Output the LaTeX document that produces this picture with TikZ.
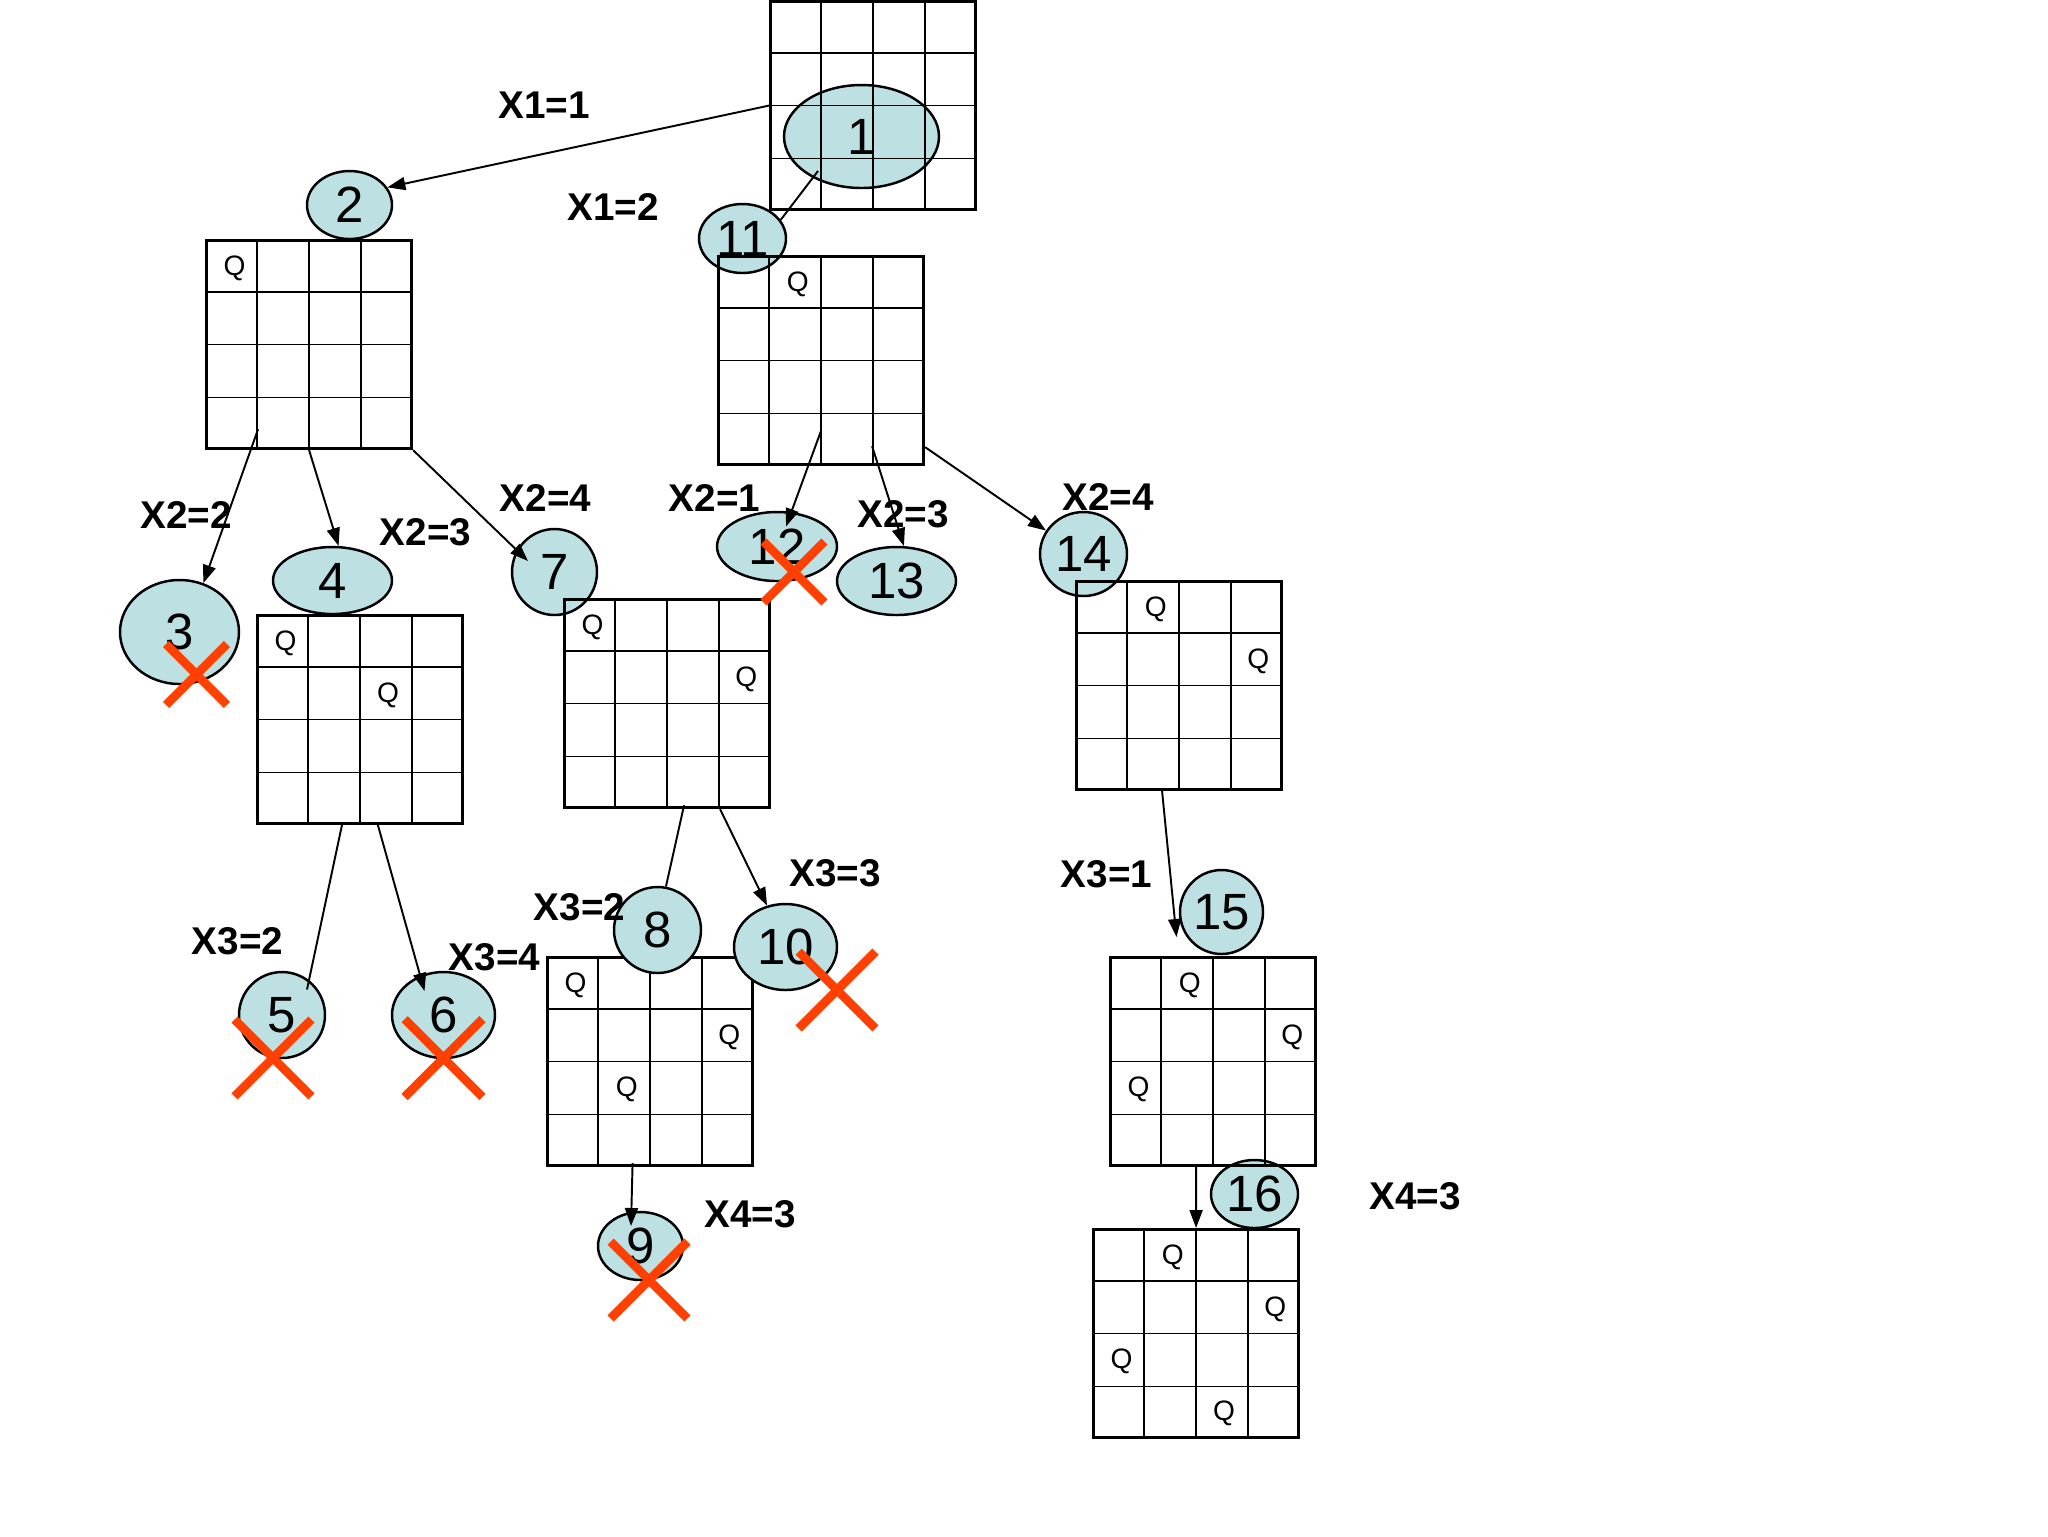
\documentclass[tikz,border=0pt]{standalone}
\usepackage{fontspec}
\setmainfont{Liberation Sans}
\usetikzlibrary{arrows.meta,calc,shapes.geometric,shapes.misc}

\definecolor{nodefill}{RGB}{189,224,227}
\definecolor{xred}{RGB}{255,64,0}

% 4x4 board: name, top-left corner
\newcommand{\board}[3]{%
  \node[board, anchor=north west] (#1) at (#2,#3) {};
  \foreach \k in {1,2,3} {
    \draw[gridline] ($(#1.north west)!\k/4!(#1.north east)$) -- ($(#1.south west)!\k/4!(#1.south east)$);
    \draw[gridline] ($(#1.north west)!\k/4!(#1.south west)$) -- ($(#1.north east)!\k/4!(#1.south east)$);
  }
}
% queen: board, column, row
\newcommand{\queen}[3]{%
  \node[queen] (#1q#2#3) at ($(#1.north west)+({(#2+0.5)*51.25+4},{(#3+0.5)*52+3})$) {Q};
}

\begin{document}
\begin{tikzpicture}[
    x=0.1mm, y=-0.1mm,
    state/.style={ellipse, draw, line width=0.7pt, fill=nodefill, inner sep=0pt, font=\fontsize{14.5}{17}\selectfont},
    board/.style={rectangle, draw, line width=0.9pt, minimum width=20.5mm, minimum height=20.8mm, inner sep=0pt},
    gridline/.style={line width=0.45pt},
    queen/.style={inner sep=0pt, font=\fontsize{8}{9}\selectfont},
    lbl/.style={inner sep=0pt, font=\fontsize{11}{13}\selectfont\bfseries},
    arrow/.style={-{Triangle[length=1.8mm, width=1.3mm]}, line width=0.55pt},
    link/.style={line width=0.55pt},
    dead/.style={cross out, draw=xred, line width=2.5pt, inner sep=0pt}
]
\useasboundingbox (0,0) rectangle (2048,1536);

% States
\node[state, minimum width=15.5mm, minimum height=10.3mm] (e1) at (861.5,136.5) {1};
\node[state, minimum width=8.5mm, minimum height=6.8mm] (e2) at (349.5,205) {2};
\node[state, minimum width=8.7mm, minimum height=6.9mm] (e11) at (742.5,238.5) {11};
\node[state, minimum width=11.9mm, minimum height=10.4mm] (e3) at (179.5,632) {3};
\node[state, minimum width=11.9mm, minimum height=6.7mm] (e4) at (332.5,580.5) {4};
\node[state, minimum width=8.5mm, minimum height=8.6mm] (e7) at (554.5,572) {7};
\node[state, minimum width=12mm, minimum height=6.9mm] (e12) at (777,546.5) {12};
\node[state, minimum width=11.9mm, minimum height=6.8mm] (e13) at (896.5,581) {13};
\node[state, minimum width=8.7mm, minimum height=8.4mm] (e14) at (1083.5,554) {14};
\node[state, minimum width=8.6mm, minimum height=8.6mm] (e5) at (282,1015) {5};
\node[state, minimum width=10.3mm, minimum height=8.6mm] (e6) at (443.5,1015) {6};
\node[state, minimum width=8.5mm, minimum height=6.8mm] (e9) at (640.5,1246) {9};
\node[state, minimum width=8.3mm, minimum height=8.4mm] (e15) at (1221.5,912) {15};
\node[state, minimum width=8.7mm, minimum height=6.8mm] (e16) at (1254.5,1194) {16};

% Boards
\board{b1}{769}{0}
\board{b2}{205}{239}
\queen{b2}{0}{0}
\board{b11}{717}{255}
\queen{b11}{1}{0}
\board{b4}{256}{614}
\queen{b4}{0}{0}
\queen{b4}{2}{1}
\board{b7}{563}{598}
\queen{b7}{0}{0}
\queen{b7}{3}{1}
\board{b14}{1075}{580}
\queen{b14}{1}{0}
\queen{b14}{3}{1}
\board{b8}{546}{956}
\queen{b8}{0}{0}
\queen{b8}{3}{1}
\queen{b8}{1}{2}
\board{b15}{1109}{956}
\queen{b15}{1}{0}
\queen{b15}{3}{1}
\queen{b15}{0}{2}
\board{b16}{1092}{1228}
\queen{b16}{1}{0}
\queen{b16}{3}{1}
\queen{b16}{0}{2}
\queen{b16}{2}{3}

\node[state, minimum width=8.7mm, minimum height=8.6mm] (e8) at (657.5,930) {8};
\node[state, minimum width=10.3mm, minimum height=8.6mm] (e10) at (785.5,947) {10};

% Labels
\node[lbl] (l1a) at (544,105) {X1=1};
\node[lbl] (l1b) at (613,207) {X1=2};
\node[lbl] (l2a) at (186,514.5) {X2=2};
\node[lbl] (l2b) at (425.5,532) {X2=3};
\node[lbl] (l2c) at (545.5,497.5) {X2=4};
\node[lbl] (l2d) at (714.5,497.5) {X2=1};
\node[lbl] (l2e) at (903,514.5) {X2=3};
\node[lbl] (l2f) at (1108,496.5) {X2=4};
\node[lbl] (l3a) at (237.5,941.5) {X3=2};
\node[lbl] (l3b) at (494.5,957.5) {X3=4};
\node[lbl] (l3c) at (579.5,907) {X3=2};
\node[lbl] (l3d) at (835,873) {X3=3};
\node[lbl] (l3e) at (1106.5,874) {X3=1};
\node[lbl] (l4a) at (750,1214) {X4=3};
\node[lbl] (l4b) at (1415,1196) {X4=3};

% Connectors
\draw[arrow] (b1.west) -- (e2.25);
\draw[link] ([xshift=-4.35mm,yshift=-3.45mm]e1.center) -- (e11.26);
\draw[arrow] ([xshift=-5.1mm,yshift=2.1mm]b2.south) -- (e3.64);
\draw[arrow] (b2.south) -- (e4.80);
\draw[arrow] (b2.south east) -- ([xshift=-2.65mm,yshift=1.1mm]e7.center);
\draw[arrow] ([yshift=3.55mm]b11.south) -- ([xshift=0.9mm,yshift=2mm]e12.center);
\draw[arrow] ([xshift=5.1mm,yshift=2mm]b11.south) -- (e13.78);
\draw[arrow] ([yshift=1.9mm]b11.south east) -- (e14.148);
\draw[link] ([xshift=-1.75mm,yshift=0.3mm]b4.south) -- ([xshift=2.5mm,yshift=2.55mm]e5.center);
\draw[arrow] ([xshift=1.7mm,yshift=0.3mm]b4.south) -- ([xshift=-1.9mm,yshift=2.4mm]e6.center);
\draw[link] ([xshift=1.7mm,yshift=0.4mm]b7.south) -- (e8.79);
\draw[arrow] ([xshift=5.3mm]b7.south) -- (e10.114);
\draw[arrow] ([xshift=-1.75mm,yshift=0.4mm]b8.south) -- ([xshift=-0.95mm,yshift=2mm]e9.center);
\draw[arrow] ([xshift=-1.7mm]b14.south) -- ([xshift=-4.5mm,yshift=-2.5mm]e15.center);
\draw[arrow] ([xshift=-1.7mm,yshift=0.3mm]b15.south) -- (b16.north);

% Dead ends
\node[dead, minimum size=5.2mm] (x3) at (196.5,674.5) {};
\node[dead, minimum size=5.2mm] (x12) at (794,572) {};
\node[dead, minimum size=6.8mm] (x5) at (273,1058) {};
\node[dead, minimum size=6.9mm] (x6) at (443.5,1058) {};
\node[dead, minimum size=6.8mm] (x10) at (837,990) {};
\node[dead, minimum size=6.8mm] (x9) at (649,1280) {};

\end{tikzpicture}
\end{document}
